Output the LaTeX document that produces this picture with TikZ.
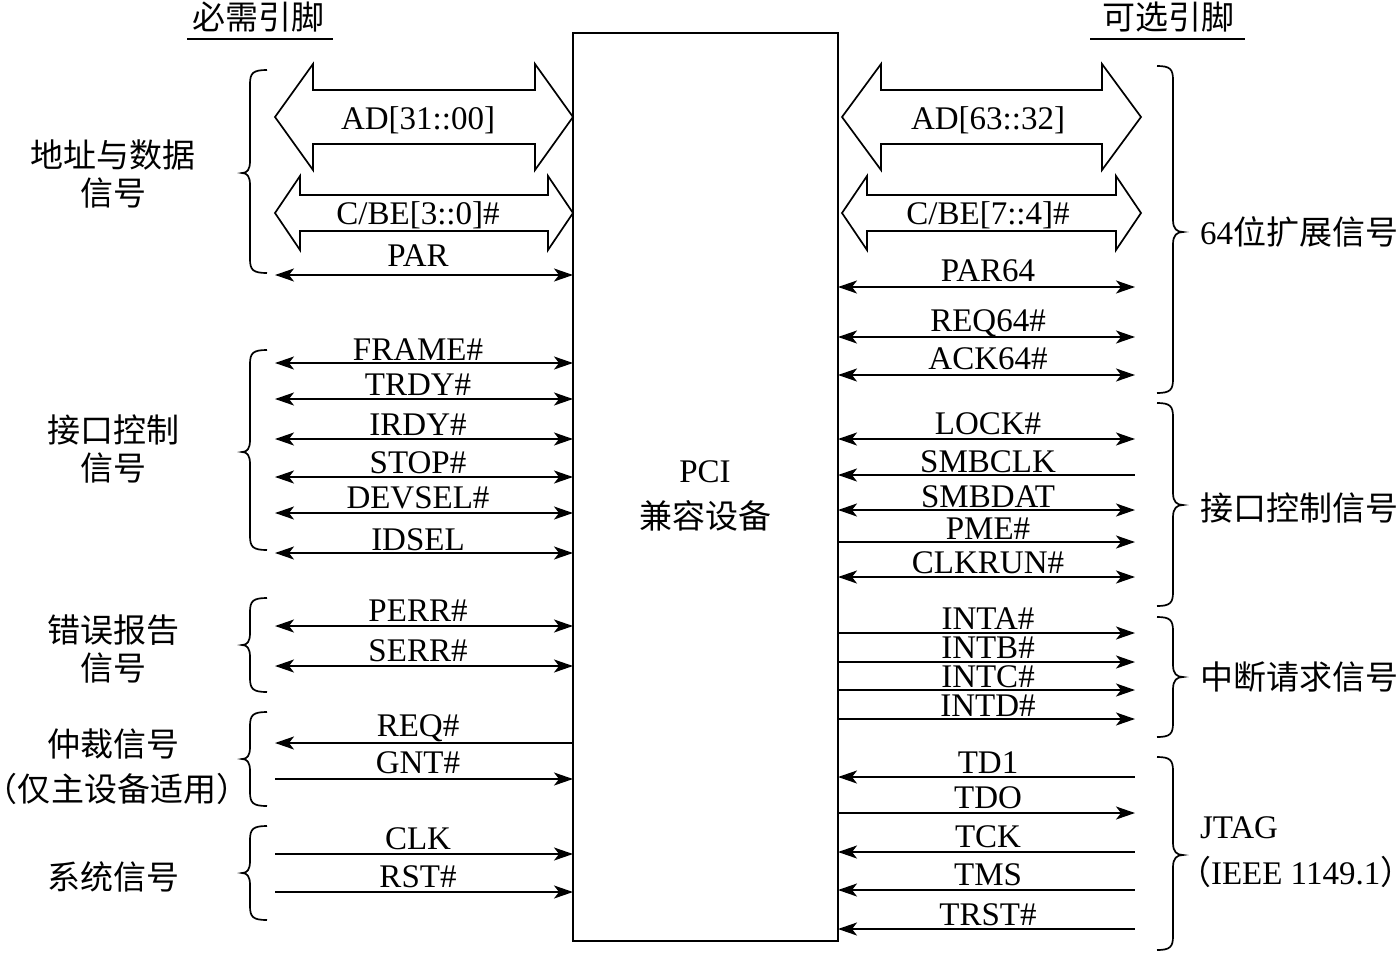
\documentclass[tikz,border=0pt]{standalone}
\usepackage{fontspec}
\setmainfont{Liberation Serif}
\newfontfamily\cjk{Noto Sans CJK SC}
\usetikzlibrary{arrows.meta}
\tikzset{
  every node/.style={inner sep=0pt, outer sep=0pt, font=\fontsize{33}{40}\selectfont},
  lab/.style={anchor=base},
  rgrp/.style={anchor=base west},
  wire/.style={line width=1.8pt},
  stl/.tip={Stealth[length=19pt,width=13pt,inset=5pt]},
  bi/.style={wire,stl-stl},
  tol/.style={wire,stl-},
  tor/.style={wire,-stl},
  fat/.style={line width=1.7pt, line join=miter},
  brc/.style={line width=1.7pt},
  hline/.style={line width=1.7pt},
}
\newcommand\BrL[3]{\draw[brc] (267,#1) .. controls (253,#1) and (250,#1+3) .. (250,#1+14) -- (250,#2-12) .. controls (250,#2-3) and (247,#2) .. (242,#2) .. controls (247,#2) and (250,#2+3) .. (250,#2+12) -- (250,#3-14) .. controls (250,#3-3) and (253,#3) .. (267,#3);}
\newcommand\BrR[3]{\draw[brc] (1157,#1) .. controls (1170,#1) and (1173,#1+3) .. (1173,#1+14) -- (1173,#2-12) .. controls (1173,#2-3) and (1177,#2) .. (1183,#2) .. controls (1177,#2) and (1173,#2+3) .. (1173,#2+12) -- (1173,#3-14) .. controls (1173,#3-3) and (1170,#3) .. (1157,#3);}
\newcommand\FatArr[6]{\draw[fat] (#1,#3) -- (#1+#4,#3-#5) -- (#1+#4,#3-#6) -- (#2-#4,#3-#6) -- (#2-#4,#3-#5) -- (#2,#3) -- (#2-#4,#3+#5) -- (#2-#4,#3+#6) -- (#1+#4,#3+#6) -- (#1+#4,#3+#5) -- cycle;}
\begin{document}
\begin{tikzpicture}[x=1pt,y=-1pt]
\useasboundingbox (0,0) rectangle (1399,953);
% central box
\node[draw, line width=1.7pt, minimum width=265pt, minimum height=908pt, anchor=north west] (box) at (573,33) {};
\node[lab] (pci) at (705,482) {PCI};
\node[lab] (dev) at (705,528) {\cjk 兼容设备};
% headers
\node[lab] (hL) at (258,29) {\cjk 必需引脚};
\node[lab] (hR) at (1168,29) {\cjk 可选引脚};
\draw[hline] (187,39) -- (333,39);
\draw[hline] (1090,39) -- (1245,39);
% fat arrows
\FatArr{275}{573}{117}{38}{53}{27}
\FatArr{275}{573}{213}{25}{37}{18}
\FatArr{842}{1141}{117}{39}{53}{27}
\FatArr{842}{1141}{213}{25}{37}{18}
\node[lab] (lAD) at (418,129) {AD[31::00]};
\node[lab] (lCBE) at (418,224) {C/BE[3::0]\#};
\node[lab] (rAD) at (988,129) {AD[63::32]};
\node[lab] (rCBE) at (988,224) {C/BE[7::4]\#};
% left signals
\foreach \y/\s in {275/bi,363/bi,399/bi,439/bi,477/bi,513/bi,553/bi,626/bi,666/bi,743/tol,779/tor,854/tor,892/tor}
  \draw[\s] (275,\y) -- (box.west |- 0,\y);
\foreach \i/\t/\b in {1/PAR/266,2/FRAME\#/360,3/TRDY\#/395,4/IRDY\#/435,5/STOP\#/473,6/DEVSEL\#/508,7/IDSEL/550,8/PERR\#/621,9/SERR\#/661,10/REQ\#/736,11/GNT\#/773,12/CLK/849,13/RST\#/887}
  \node[lab] (ls\i) at (418,\b) {\t};
% right signals
\foreach \y/\s in {287/bi,337/bi,375/bi,439/bi,475/tol,510/bi,542/tor,577/bi,633/tor,662/tor,690/tor,719/tor,777/tol,813/tor,852/tol,890/tol,929/tol}
  \draw[\s] (box.east |- 0,\y) -- (1135,\y);
\foreach \i/\t/\b in {1/PAR64/281,2/REQ64\#/331,3/ACK64\#/369,4/LOCK\#/434,5/SMBCLK/472,6/SMBDAT/507,7/PME\#/539,8/CLKRUN\#/573,9/INTA\#/629,10/INTB\#/658,11/INTC\#/687,12/INTD\#/716,13/TD1/773,14/TDO/808,15/TCK/847,16/TMS/885,17/TRST\#/925}
  \node[lab] (rs\i) at (988,\b) {\t};
% left braces and group labels
\BrL{70}{173}{273}
\BrL{350}{452}{550}
\BrL{598}{645}{692}
\BrL{712}{759}{806}
\BrL{826}{873}{920}
\node[lab] (g1a) at (113,167) {\cjk 地址与数据};
\node[lab] (g1b) at (113,205) {\cjk 信号};
\node[lab] (g2a) at (113,442) {\cjk 接口控制};
\node[lab] (g2b) at (113,480) {\cjk 信号};
\node[lab] (g3a) at (113,642) {\cjk 错误报告};
\node[lab] (g3b) at (113,680) {\cjk 信号};
\node[lab] (g4a) at (113,756) {\cjk 仲裁信号};
\node[lab] (g4b) at (117,801) {\cjk （仅主设备适用）};
\node[lab] (g5a) at (113,889) {\cjk 系统信号};
% right braces and group labels
\BrR{66}{232}{393}
\BrR{403}{505}{606}
\BrR{617}{677}{737}
\BrR{757}{855}{950}
\node[rgrp] (r1) at (1200,244) {64{\cjk 位扩展信号}};
\node[rgrp] (r2) at (1200,520) {\cjk 接口控制信号};
\node[rgrp] (r3) at (1200,689) {\cjk 中断请求信号};
\node[rgrp] (r4a) at (1200,838) {JTAG};
\node[rgrp] (r4b) at (1178,884) {{\cjk （}IEEE 1149.1{\cjk ）}};
\end{tikzpicture}
\end{document}
